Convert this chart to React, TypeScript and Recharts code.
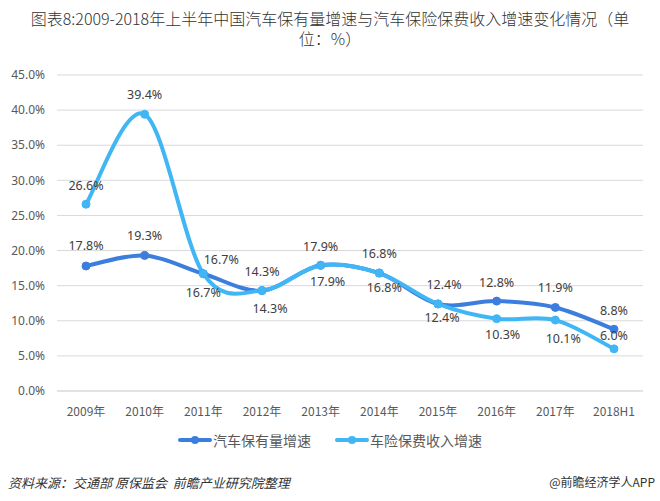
import React from "react";
import { LineChart, Line, XAxis, YAxis, CartesianGrid, LabelList } from "recharts";

const categories = ["2009年", "2010年", "2011年", "2012年", "2013年", "2014年", "2015年", "2016年", "2017年", "2018H1"];
const carOwnershipGrowth = [17.8, 19.3, 16.7, 14.3, 17.9, 16.8, 12.4, 12.8, 11.9, 8.8];
const premiumGrowth = [26.6, 39.4, 16.7, 14.3, 17.9, 16.8, 12.4, 10.3, 10.1, 6.0];
const yTicks = [0, 5, 10, 15, 20, 25, 30, 35, 40, 45];

const seriesNames = ["汽车保有量增速", "车险保费收入增速"];
const colors = ["#3C7EDD", "#40B6F5"];

// label nudges (pixels, relative to point)
const s1Dx = [0, 0, 18, 0, 0, 0, 6, 0, 0, 0];
const s1Dy = [-21, -20, -14, -19, -19, -20, -19, -19, -20, -19];
const s2Dx = [0, 0, 0, 8, 7, 5, 4, 6, 8, 0];
const s2Dy = [-19, -20, 19, 18, 16, 14, 14, 16, 18, -13];

const data = categories.map((c, i) => ({ name: c, a: carOwnershipGrowth[i], b: premiumGrowth[i] }));

function smoothCurve(context: any) {
  let pts: [number, number][] = [];
  return {
    areaStart() {},
    areaEnd() {},
    lineStart() {
      pts = [];
    },
    lineEnd() {
      const n = pts.length;
      if (!n) return;
      context.moveTo(pts[0][0], pts[0][1]);
      const t = 1 / 6;
      for (let i = 0; i < n - 1; i++) {
        const p0 = pts[i - 1] || pts[i];
        const p1 = pts[i];
        const p2 = pts[i + 1];
        const p3 = pts[i + 2] || p2;
        context.bezierCurveTo(
          p1[0] + (p2[0] - p0[0]) * t,
          p1[1] + (p2[1] - p0[1]) * t,
          p2[0] - (p3[0] - p1[0]) * t,
          p2[1] - (p3[1] - p1[1]) * t,
          p2[0],
          p2[1]
        );
      }
    },
    point(x: number, y: number) {
      pts.push([+x, +y]);
    },
  };
}

const makeLabel = (dxArr: number[], dyArr: number[]) => (props: any) => {
  const { x, y, value, index } = props;
  return (
    <text
      x={x + dxArr[index]}
      y={y + dyArr[index]}
      textAnchor="middle"
      dominantBaseline="central"
      fontSize={12.5}
      fill="#404040"
      fontFamily="'Noto Sans', 'Noto Sans CJK SC', sans-serif"
    >
      {Number(value).toFixed(1) + "%"}
    </text>
  );
};

const font = "'Noto Sans CJK SC', 'Noto Sans', sans-serif";

export default function App() {
  return (
    <div style={{ position: "absolute", left: 0, top: 0, width: 660, height: 501, background: "#fff", fontFamily: font }}>
      <div
        style={{
          position: "absolute",
          top: 8,
          left: 0,
          width: 660,
          textAlign: "center",
          fontSize: 16,
          lineHeight: "20px",
          color: "#333",
          fontWeight: 300,
        }}
      >
        图表8:2009-2018年上半年中国汽车保有量增速与汽车保险保费收入增速变化情况（单
        <br />
        位：%）
      </div>
      <LineChart width={660} height={501} data={data} margin={{ top: 75, right: 17, left: 7, bottom: 80 }}>
        <CartesianGrid vertical={false} stroke="#D9D9D9" />
        <XAxis
          dataKey="name"
          axisLine={{ stroke: "#D9D9D9" }}
          tickLine={false}
          tick={{ fontSize: 12, fill: "#595959", fontFamily: font }}
          tickMargin={10}
          interval={0}
          padding={{ left: 29, right: 29 }}
        />
        <YAxis
          width={50}
          domain={[0, 45]}
          ticks={yTicks}
          axisLine={false}
          tickLine={false}
          tick={{ fontSize: 12, fill: "#595959", fontFamily: "'Noto Sans', sans-serif" }}
          tickFormatter={(v: number) => v.toFixed(1) + "%"}
          tickMargin={6}
        />
        <Line
          dataKey="a"
          type={smoothCurve as any}
          stroke={colors[0]}
          strokeWidth={4}
          dot={{ r: 4, fill: colors[0], stroke: colors[0], strokeWidth: 1 }}
          isAnimationActive={false}
        >
          <LabelList dataKey="a" content={makeLabel(s1Dx, s1Dy)} />
        </Line>
        <Line
          dataKey="b"
          type={smoothCurve as any}
          stroke={colors[1]}
          strokeWidth={4}
          dot={{ r: 4, fill: colors[1], stroke: colors[1], strokeWidth: 1 }}
          isAnimationActive={false}
        >
          <LabelList dataKey="b" content={makeLabel(s2Dx, s2Dy)} />
        </Line>
      </LineChart>
      <div style={{ position: "absolute", top: 430, left: 0, width: 660, display: "flex", justifyContent: "center" }}>
        {seriesNames.map((n, i) => (
          <div key={n} style={{ display: "flex", alignItems: "center", marginLeft: i ? 24 : 0 }}>
            <svg width={34} height={20}>
              <line x1={2} y1={10} x2={32} y2={10} stroke={colors[i]} strokeWidth={4} strokeLinecap="round" />
              <circle cx={17} cy={10} r={4} fill={colors[i]} />
            </svg>
            <span style={{ fontSize: 14, color: "#595959", marginLeft: 1 }}>{n}</span>
          </div>
        ))}
      </div>
      <div style={{ position: "absolute", top: 473, left: 8, fontSize: 13, fontStyle: "italic", color: "#333" }}>
        资料来源：交通部 原保监会&nbsp;&nbsp;前瞻产业研究院整理
      </div>
      <div style={{ position: "absolute", top: 473, right: 5, fontSize: 12, color: "#333" }}>@前瞻经济学人APP</div>
    </div>
  );
}
